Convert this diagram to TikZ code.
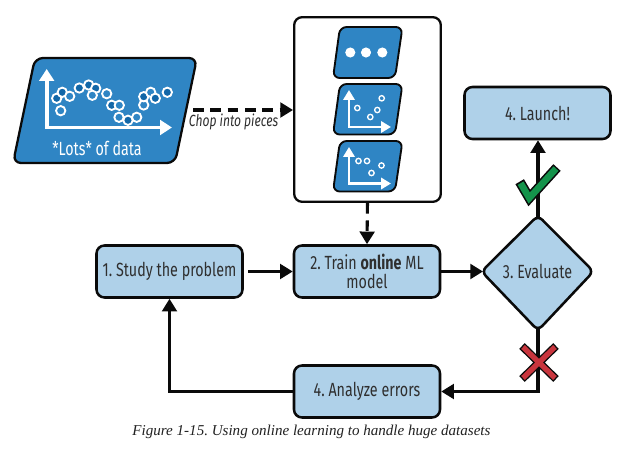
\documentclass[tikz,border=0pt]{standalone}
\usepackage{fontspec}
\setmainfont{Liberation Serif}
\newfontfamily\boxfont[FakeStretch=0.75]{Fira Sans}
\usetikzlibrary{arrows.meta}
\definecolor{dblue}{HTML}{2F85C4}
\definecolor{dark}{HTML}{1267A8}
\definecolor{lblue}{HTML}{AFD1E9}
\definecolor{cgreen}{HTML}{14934B}
\definecolor{cred}{HTML}{C8353D}
\definecolor{ink}{HTML}{0A0A0A}
\tikzset{
 x=0.75pt,y=-0.75pt,
 stepbox/.style={draw=ink,line width=1.9pt,fill=lblue,rounded corners=6pt,minimum width=109.5pt,minimum height=39pt,inner sep=0pt,align=center,font=\boxfont\fontsize{14.3}{14.8}\selectfont,text=ink!85},
 decide/.style={draw=ink,line width=1.9pt,fill=lblue,rounded corners=4.5pt},
 flow/.style={draw=ink,line width=2.3pt,-{Triangle[length=9.5pt,width=11pt]}},
 flowdash/.style={flow,dash pattern=on 8pt off 5pt},
 para/.style={draw=ink,line width=1.7pt,fill=dblue,rounded corners=6pt,line join=round},
 axis/.style={draw=white,line width=2.9pt,-{Triangle[length=9pt,width=11pt]}},
 smallaxis/.style={draw=white,line width=1.9pt,-{Triangle[length=7.5pt,width=8.5pt]}},
 dot/.style={circle,draw=white,line width=1.4pt,inner sep=0pt,minimum size=7pt},
 sdot/.style={circle,draw=white,line width=1pt,inner sep=0pt,minimum size=4pt},
}
\frenchspacing
\begin{document}
\begin{tikzpicture}
\path[use as bounding box,fill=white] (0,0) rectangle (637,456);
% data panel
\path[para] (35,58) -- (197,58) -- (175,163) -- (13,163) -- cycle;
\draw[axis] (46.7,127.5) -- (46.7,69);
\draw[axis] (45,127.5) -- (172,127.5);
\foreach \px/\py/\c in {56.7/98.3/dark,62.3/92.3/dark,69.7/96.3/dblue,60.7/110.7/dblue,79.3/88/dark,88.7/85/dark,95.7/88.3/dark,92.3/95.3/dblue,106.7/93.7/dblue,111.7/105.3/dark,119.3/105.3/dblue,119/117.3/dblue,128/120.3/dark,136.7/117.3/dblue,143.7/105/dblue,143.7/96.7/dark,150.7/92.3/dblue,155.3/98.3/dark,167.3/92.3/dark}
  \node[dot,fill=\c] at (\px,\py) {};
\node[text=white,font=\boxfont\fontsize{14.3}{15}\selectfont] (datalabel) at (97,148) {*Lots* of data};
% pieces box
\node[draw=ink,line width=1.7pt,rounded corners=6pt,minimum width=110pt,minimum height=138.5pt,inner sep=0pt] (pieces) at (367.5,109.5) {};
\path[para,line width=1.4pt,rounded corners=5pt] (340,27) -- (402.5,27) -- (395,78) -- (333,78) -- cycle;
\foreach \px in {350.3,366,382.3} \fill[white] (\px,52.5) circle (3.8pt);
\path[para,line width=1.4pt,rounded corners=5pt] (340,84) -- (402.5,84) -- (395,134.5) -- (333,134.5) -- cycle;
\draw[smallaxis] (349,128) -- (349,90);
\draw[smallaxis] (348,127) -- (391,127);
\foreach \px/\py in {381.7/98.3,357.3/108,377.3/110,370.3/117} \node[sdot] at (\px,\py) {};
\path[para,line width=1.4pt,rounded corners=5pt] (340,141) -- (402.5,141) -- (395,191.5) -- (333,191.5) -- cycle;
\draw[smallaxis] (349,184.5) -- (349,147);
\draw[smallaxis] (348,183.5) -- (391,183.5);
\foreach \px/\py in {358.5/161,367/161,381.5/165.5,371.5/173} \node[sdot] at (\px,\py) {};
% process boxes
\node[stepbox] (study) at (169.5,271.5) {1. Study the problem};
\node[stepbox] (train) at (367,271.5) {2. Train \textbf{online} ML\\model};
\node[stepbox] (analyze) at (367,391.5) {4. Analyze errors};
\node[stepbox] (launch) at (537.5,113) {4. Launch!};
\path[decide] (538,215.5) -- (593.5,271.5) -- (538,330.5) -- (481.5,271.5) -- cycle;
\node[font=\boxfont\fontsize{14.3}{15}\selectfont,text=ink!85] (evaluate) at (537.5,271) {3. Evaluate};
\coordinate (evalw) at (483,271.5);
\coordinate (evaln) at (538,217);
\coordinate (evals) at (538,329);
\coordinate (chopstart) at (193,110);
\coordinate (studyout) at (248,271.5);
% connectors
\draw[flowdash] (chopstart) -- (chopstart -| pieces.west);
\draw[flowdash] (pieces.south) -- (train.north);
\draw[flow] (studyout) -- (train.west);
\draw[flow] (train.east) -- (evalw);
\draw[flow] (evaln) -- (evaln |- launch.south);
\draw[flow] (evals) |- (analyze.east);
\draw[flow] (analyze.west) -| (study.south);
\node[font=\boxfont\itshape\fontsize{12.1}{13}\selectfont,text=ink!85] (choplabel) at (233.5,122) {Chop into pieces};
% check
\draw[ink,line width=7.4pt,line join=miter] (519.7,181.7) -- (529.3,198) -- (557,167.5);
\draw[cgreen,line width=5pt,line join=miter] (520.6,183.2) -- (529.3,198) -- (556,168.6);
% cross
\draw[ink,line width=6pt] (522,346) -- (556,379) (556,346) -- (522,379);
\draw[cred,line width=4pt] (523,347) -- (555,378) (555,347) -- (523,378);
% caption
\node[font=\itshape\fontsize{11.3}{13}\selectfont,text=ink!90] (caption) at (311.5,432) {Figure 1-15. Using online learning to handle huge datasets};
\end{tikzpicture}
\end{document}
